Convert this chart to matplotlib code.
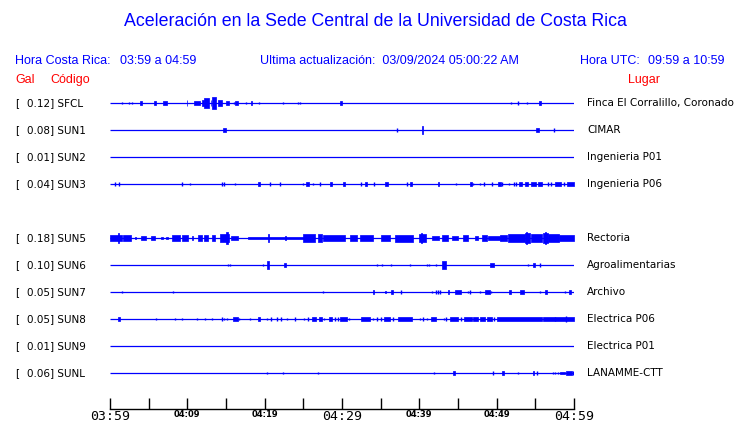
import matplotlib.pyplot as plt
from matplotlib.transforms import blended_transform_factory

BLUE = "#0000ff"
RED = "#ff0000"

CODES = ["SFCL", "SUN1", "SUN2", "SUN3", "SUN5", "SUN6", "SUN7", "SUN8", "SUN9", "SUNL"]
GAL = [0.12, 0.08, 0.01, 0.04, 0.18, 0.10, 0.05, 0.05, 0.01, 0.06]
PLACES = ["Finca El Corralillo, Coronado", "CIMAR", "Ingenieria P01", "Ingenieria P06",
          "Rectoria", "Agroalimentarias", "Archivo", "Electrica P06", "Electrica P01",
          "LANAMME-CTT"]

TICK_MIN = list(range(0, 61, 5))
TICK_LABELS = ["03:59", "", "04:09", "", "04:19", "", "04:29", "", "04:39", "", "04:49", "", "04:59"]

# bursts per station: (start minute, end minute, relative amplitude)
SFCL = [(1.6, 1.6, 0.4), (2.4, 2.4, 0.3), (2.9, 2.9, 0.3), (3.85, 4.15, 0.5), (5.65, 5.95, 0.5),
        (6.9, 7.4, 0.5), (9.9, 10.0, 0.8), (10.9, 11.6, 0.7), (11.85, 12.1, 1.0), (12.2, 12.8, 1.5),
        (13.0, 13.1, 1.0), (13.15, 13.75, 1.8), (14.0, 14.5, 1.0), (14.95, 15.45, 0.5),
        (16.0, 16.0, 0.4), (16.2, 16.6, 0.5), (17.6, 17.6, 0.4), (18.2, 18.4, 0.5), (19.3, 19.3, 0.4),
        (22.4, 22.4, 0.4), (24.3, 24.3, 0.3), (24.6, 24.6, 0.4), (29.75, 30.0, 0.5),
        (51.8, 51.8, 0.3), (52.8, 52.8, 0.5), (53.9, 53.9, 0.3), (55.5, 55.7, 0.5)]
SUN1 = [(14.6, 14.95, 0.5), (37.1, 37.1, 0.5), (40.3, 40.45, 1.2), (55.05, 55.45, 0.5), (57.45, 57.45, 0.5)]
SUN2 = []
SUN3 = [(0.7, 0.7, 0.5), (1.1, 1.1, 0.5), (9.35, 9.35, 0.5), (10.4, 10.4, 0.3), (14.5, 14.5, 0.5),
        (14.8, 14.8, 0.5), (16.1, 16.1, 0.4), (19.2, 19.45, 0.5), (20.7, 20.7, 0.5), (22.0, 22.0, 0.5),
        (25.0, 25.0, 0.3), (25.4, 25.7, 0.5), (26.2, 26.2, 0.4), (27.1, 27.1, 0.5), (28.45, 28.7, 0.5),
        (30.1, 30.45, 0.5), (32.5, 32.5, 0.5), (33.0, 33.2, 0.5), (34.1, 34.1, 0.5), (35.55, 35.95, 0.5),
        (38.4, 38.4, 0.5), (38.8, 39.0, 0.5), (42.4, 42.6, 0.5), (44.8, 44.8, 0.4), (46.55, 46.8, 0.5),
        (47.0, 47.0, 0.4), (47.9, 47.9, 0.4), (48.3, 48.3, 0.5), (49.4, 49.4, 0.5), (50.2, 50.5, 0.5),
        (50.7, 50.7, 0.5), (51.6, 51.6, 0.3), (52.2, 52.2, 0.5), (52.45, 52.45, 0.5), (52.85, 53.25, 0.5),
        (53.6, 54.1, 0.5), (54.5, 55.1, 0.5), (55.4, 55.9, 0.5), (56.6, 56.6, 0.5), (57.0, 57.0, 0.5),
        (57.55, 58.35, 0.5), (58.75, 58.75, 0.5), (59.1, 60.0, 0.5)]
SUN5 = [(0.0, 1.5, 1.0), (1.0, 1.1, 1.6), (1.7, 2.7, 0.8), (3.2, 3.3, 0.4), (4.0, 4.7, 0.6),
        (5.3, 5.8, 0.6), (6.6, 6.9, 0.4), (7.3, 7.5, 0.4), (8.0, 9.0, 1.0), (9.3, 10.1, 0.8),
        (10.6, 10.7, 0.7), (11.4, 11.9, 1.0), (12.2, 12.7, 0.8), (13.2, 13.6, 0.8), (14.2, 15.4, 1.2),
        (15.0, 15.2, 1.8), (15.7, 16.6, 0.5), (17.9, 25.2, 0.4), (20.4, 20.6, 1.4), (22.6, 22.7, 0.7),
        (24.9, 26.5, 1.2), (26.9, 27.4, 1.3), (27.6, 30.4, 0.8), (31.0, 31.9, 0.8), (32.3, 34.0, 0.8),
        (35.1, 36.2, 1.0), (36.9, 39.2, 1.1), (39.9, 40.9, 1.2), (40.2, 40.4, 1.7), (41.6, 42.5, 0.7),
        (42.9, 43.7, 0.8), (44.2, 45.0, 0.6), (45.7, 46.3, 0.9), (47.2, 47.6, 0.7), (48.1, 48.7, 1.0),
        (48.9, 50.4, 0.5), (50.4, 51.3, 1.0), (51.5, 53.7, 1.2), (53.7, 54.3, 1.6), (53.8, 53.9, 1.9),
        (54.5, 55.8, 1.2), (56.0, 56.7, 1.6), (56.3, 56.4, 2.0), (56.7, 58.0, 1.2), (58.0, 60.0, 0.8)]
SUN6 = [(15.2, 15.2, 0.4), (15.55, 15.55, 0.3), (19.8, 19.8, 0.4), (20.35, 20.5, 1.2), (22.5, 22.8, 0.5),
        (34.5, 34.5, 0.4), (35.2, 35.2, 0.4), (36.3, 36.3, 0.4), (38.8, 38.8, 0.4), (41.0, 41.0, 0.4),
        (41.3, 41.3, 0.4), (42.1, 42.1, 0.4), (42.95, 43.5, 1.2), (49.1, 49.6, 0.5), (54.1, 54.1, 0.4),
        (54.7, 54.9, 0.5), (55.6, 55.6, 0.5)]
SUN7 = [(1.5, 1.5, 0.3), (8.1, 8.1, 0.4), (27.6, 27.6, 0.4), (33.95, 34.15, 0.5), (35.55, 35.75, 0.4),
        (36.35, 36.6, 0.5), (37.6, 37.6, 0.5), (41.7, 41.7, 0.4), (42.15, 42.15, 0.5), (42.45, 42.45, 0.5),
        (42.7, 42.7, 0.5), (43.65, 43.85, 0.5), (44.6, 45.4, 0.6), (46.3, 46.3, 0.4), (46.6, 46.6, 0.5),
        (47.9, 47.9, 0.4), (48.5, 49.1, 0.5), (49.3, 49.3, 0.4), (51.6, 51.85, 0.5), (53.0, 53.5, 0.5),
        (55.6, 55.6, 0.4), (56.2, 56.5, 0.5), (58.8, 58.8, 0.3), (59.35, 59.6, 0.5)]
SUN8 = [(1.0, 1.25, 0.5), (6.0, 6.0, 0.3), (8.45, 8.45, 0.4), (9.35, 9.35, 0.4), (11.25, 11.25, 0.3),
        (12.3, 12.3, 0.4), (13.2, 13.2, 0.4), (14.45, 14.45, 0.5), (14.75, 14.75, 0.4), (15.1, 15.1, 0.4),
        (15.95, 16.5, 0.5), (16.7, 16.7, 0.3), (18.15, 18.15, 0.4), (19.2, 19.4, 0.5), (20.25, 20.25, 0.4),
        (20.8, 20.8, 0.5), (21.55, 21.55, 0.5), (22.05, 22.05, 0.5), (22.95, 22.95, 0.4), (23.9, 23.9, 0.5),
        (25.1, 25.1, 0.4), (25.65, 25.65, 0.5), (26.1, 26.6, 0.5), (27.0, 27.4, 0.5), (27.7, 27.7, 0.3),
        (28.3, 28.75, 0.5), (29.1, 29.1, 0.5), (29.45, 29.45, 0.5), (29.75, 30.6, 0.5), (30.9, 30.9, 0.3),
        (32.45, 33.6, 0.5), (33.95, 33.95, 0.4), (34.5, 34.5, 0.5), (35.0, 35.0, 0.5), (35.4, 36.2, 0.5),
        (36.6, 36.6, 0.5), (37.2, 39.0, 0.5), (40.1, 40.1, 0.4), (40.5, 40.5, 0.5), (40.95, 40.95, 0.4),
        (41.5, 42.2, 0.5), (43.2, 43.2, 0.4), (43.5, 43.5, 0.5), (43.95, 45.05, 0.5), (45.4, 45.4, 0.5),
        (45.75, 46.75, 0.5), (47.0, 47.6, 0.5), (47.8, 48.5, 0.5), (48.7, 49.35, 0.5), (49.7, 49.7, 0.5),
        (50.1, 55.8, 0.5), (56.0, 60.0, 0.5), (57.5, 57.5, 0.7), (59.0, 59.0, 0.9)]
SUN9 = []
SUNL = [(20.25, 20.25, 0.4), (22.4, 22.4, 0.4), (26.95, 26.95, 0.4), (41.95, 41.95, 0.4), (44.4, 44.6, 0.5),
        (49.55, 49.55, 0.5), (50.75, 51.0, 0.5), (52.7, 52.7, 0.4), (54.7, 54.85, 0.5), (55.25, 55.25, 0.5),
        (57.3, 57.3, 0.4), (57.6, 57.6, 0.4), (57.9, 57.9, 0.4), (58.2, 58.8, 0.4), (58.95, 59.7, 0.6),
        (59.9, 59.9, 0.5)]

TRACES = [SFCL, SUN1, SUN2, SUN3, SUN5, SUN6, SUN7, SUN8, SUN9, SUNL]

AMP = 1 / 8.5  # relative amplitude -> row spacing units

fig = plt.figure(figsize=(7.4, 4.23), dpi=100)
ax = fig.add_axes([110 / 740, 1 - 409 / 423, 464 / 740, (409 - 90) / 423])
ax.set_xlim(0, 60)
ax.set_ylim(11.33, -0.48)

row_tr = blended_transform_factory(fig.transFigure, ax.transData)

for i, (code, gal, place, bursts) in enumerate(zip(CODES, GAL, PLACES, TRACES)):
    row = i + (1 if i >= 4 else 0)  # SUN4 slot left empty
    ax.hlines(row, 0, 60, color=BLUE, lw=0.9)
    for t0, t1, a in bursts:
        h = a * AMP
        if t1 <= t0:
            ax.vlines(t0, row - h, row + h, color=BLUE, lw=1.0)
        else:
            ax.fill_between([t0, t1], row - h, row + h, color=BLUE, lw=0.5, edgecolor=BLUE)
    ax.text(15 / 740, row, "[", transform=row_tr, va="center", ha="left", fontsize=7.5)
    ax.text(27 / 740, row, f"{gal:.2f}] {code}", transform=row_tr, va="center", ha="left", fontsize=7.5)
    ax.text(587 / 740, row, place, transform=row_tr, va="center", ha="left", fontsize=7.5)

for side in ["top", "left", "right"]:
    ax.spines[side].set_visible(False)
ax.spines["bottom"].set_linewidth(1.0)
ax.set_yticks([])
ax.set_xticks(TICK_MIN)
ax.set_xticklabels(TICK_LABELS)
ax.tick_params(axis="x", direction="in", length=8, width=1, pad=1)
for k, lab in enumerate(ax.get_xticklabels()):
    if k % 6 == 0:
        lab.set_fontfamily("DejaVu Sans Mono")
        lab.set_fontsize(9.5)
    else:
        lab.set_fontsize(6)
        lab.set_fontweight("bold")

# header
sans = "Liberation Sans"
hs = 9
fig.text(375 / 740, 1 - 22 / 423, "Aceleración en la Sede Central de la Universidad de Costa Rica",
         color=BLUE, fontsize=12.8, family=sans, ha="center", va="center")
fig.text(15 / 740, 1 - 61 / 423, "Hora Costa Rica:", color=BLUE, fontsize=hs, family=sans, va="center")
fig.text(120 / 740, 1 - 61 / 423, "03:59 a 04:59", color=BLUE, fontsize=hs, family=sans, va="center")
fig.text(260 / 740, 1 - 61 / 423, "Ultima actualización:  03/09/2024 05:00:22 AM", color=BLUE,
         fontsize=hs, family=sans, va="center")
fig.text(580 / 740, 1 - 61 / 423, "Hora UTC:", color=BLUE, fontsize=hs, family=sans, va="center")
fig.text(724 / 740, 1 - 61 / 423, "09:59 a 10:59", color=BLUE, fontsize=hs, family=sans,
         va="center", ha="right")
fig.text(15 / 740, 1 - 80 / 423, "Gal", color=RED, fontsize=hs, family=sans, va="center")
fig.text(50 / 740, 1 - 80 / 423, "Código", color=RED, fontsize=hs, family=sans, va="center")
fig.text(628 / 740, 1 - 80 / 423, "Lugar", color=RED, fontsize=hs, family=sans, va="center")

fig.savefig("out.png", dpi=100)
